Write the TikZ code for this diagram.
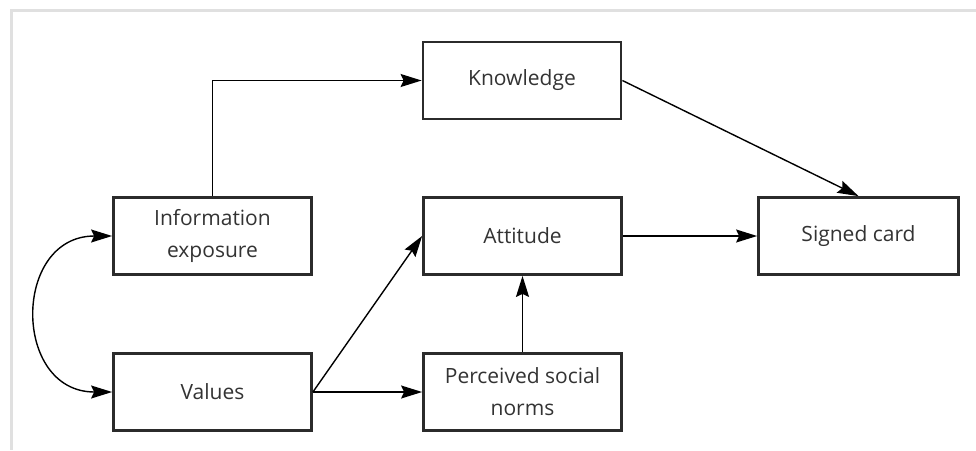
\documentclass[tikz,border=0pt]{standalone}
\usepackage{fontspec}
\setmainfont{Open Sans}
\usetikzlibrary{arrows.meta}
\definecolor{boxline}{HTML}{2B2B2B}
\definecolor{txt}{HTML}{333333}
\definecolor{frame}{HTML}{E0E0E0}
\begin{document}
\begin{tikzpicture}[x=1pt,y=-1pt,
  box/.style={draw=boxline, line width=2.8pt, minimum width=198pt, minimum height=77pt,
    inner sep=0pt, align=center, text=txt, font=\fontsize{21}{32}\selectfont},
  tip/.style={Stealth[length=21pt,width=13pt,inset=3pt]},
  conn/.style={draw=black, line width=1.4pt, -{Stealth[length=21pt,width=13pt,inset=3pt]}}]
\useasboundingbox (0,0) rectangle (976,450);
\fill[white] (0,0) rectangle (976,450);
\draw[frame, line width=3pt] (11,450) -- (11,10) -- (976,10);

\node[box] (know) at (522,80.5) {Knowledge};
\node[box] (info) at (212.5,236) {Information\\exposure};
\node[box] (val) at (212.5,392) {Values};
\node[box] (att) at (522.5,236) {Attitude};
\node[box] (per) at (522.5,392) {Perceived social\\norms};
\node[box, minimum width=200pt] (sig) at (858.5,236) {Signed card};

\draw[conn] (info.north) |- (know.west);
\draw[conn] (know.east) -- (sig.north);
\draw[conn] (att.east) -- (sig.west);
\draw[conn] (val.east) -- (att.west);
\draw[conn] (val.east) -- (per.west);
\draw[conn] (per.north) -- (att.south);
\draw[draw=black, line width=1.4pt, {Stealth[length=21pt,width=13pt,inset=3pt]}-{Stealth[length=21pt,width=13pt,inset=3pt]}]
  (info.west) .. controls +(-100,0) and +(-100,0) .. (val.west);
\end{tikzpicture}
\end{document}
